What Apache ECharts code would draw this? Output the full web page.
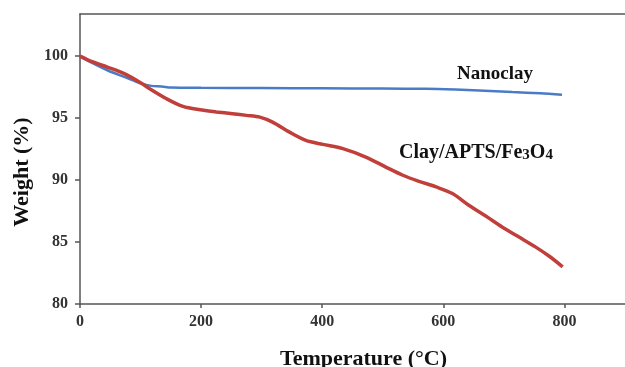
<!DOCTYPE html>
<html>
<head>
<meta charset="utf-8">
<script src="https://cdn.jsdelivr.net/npm/echarts@6/dist/echarts.min.js"></script>
<style>html,body{margin:0;padding:0;background:#fff}#c{width:625px;height:367px}</style>
</head>
<body>
<div id="c"></div>
<script>
var xTicks = [0, 200, 400, 600, 800];
var yTicks = [80, 85, 90, 95, 100];

var nanoclayT = [0, 20, 46, 74, 102, 118, 135, 150, 200, 300, 400, 500, 571, 620, 659, 714, 760, 796];
var nanoclayW = [100, 99.45, 98.84, 98.3, 97.77, 97.6, 97.55, 97.47, 97.44, 97.42, 97.4, 97.38, 97.36, 97.3, 97.23, 97.1, 97.0, 96.88];

var compT = [0, 20, 46, 74, 102, 115, 143, 170, 198, 225, 252, 275, 297, 318, 346, 373, 401, 434, 472, 505, 533, 560, 588, 615, 642, 670, 697, 725, 752, 775, 797];
var compW = [100, 99.55, 99.1, 98.57, 97.8, 97.37, 96.56, 95.94, 95.67, 95.5, 95.35, 95.22, 95.08, 94.68, 93.87, 93.2, 92.88, 92.54, 91.86, 91.05, 90.39, 89.9, 89.45, 88.91, 87.97, 87.1, 86.22, 85.4, 84.61, 83.85, 83.0];

function pairs(t, w) { return t.map(function (v, i) { return [v, w[i]]; }); }

var serif = '"Liberation Serif", "DejaVu Serif", serif';
var axisColor = '#555';

var chart = echarts.init(document.getElementById('c'), null, { renderer: 'canvas' });
chart.setOption({
  backgroundColor: '#fff',
  animation: false,
  grid: { left: 80, right: 0, top: 14, bottom: 63, containLabel: false, outerBoundsMode: 'none' },
  xAxis: [{
    type: 'value', min: 0, max: 900, interval: 200,
    name: 'Temperature (\u00B0C)', nameLocation: 'middle', nameGap: 44,
    nameTextStyle: { fontFamily: serif, fontWeight: 'bold', fontSize: 22, color: '#111', padding: [0, 0, 0, 22] },
    axisLine: { show: true, lineStyle: { color: axisColor, width: 1.5 } },
    axisTick: { show: true, length: 4, customValues: xTicks, lineStyle: { color: axisColor, width: 1.5 } },
    axisLabel: { customValues: xTicks, fontFamily: serif, fontWeight: 'bold', fontSize: 16, color: '#333', margin: 10 },
    splitLine: { show: false }
  }, {
    type: 'value', min: 0, max: 900, position: 'top',
    axisLine: { show: true, lineStyle: { color: axisColor, width: 1.5 } },
    axisTick: { show: false }, axisLabel: { show: false }, splitLine: { show: false }
  }],
  yAxis: {
    type: 'value', min: 80, max: 103.4, interval: 5,
    name: 'Weight (%)', nameLocation: 'middle', nameGap: 44, nameRotate: 90,
    nameTextStyle: { fontFamily: serif, fontWeight: 'bold', fontSize: 22, color: '#111', padding: [0, 26, 0, 0] },
    axisLine: { show: true, lineStyle: { color: axisColor, width: 1.5 } },
    axisTick: { show: true, length: 5, customValues: yTicks, lineStyle: { color: axisColor, width: 1.5 } },
    axisLabel: { customValues: yTicks, fontFamily: serif, fontWeight: 'bold', fontSize: 16, color: '#333', margin: 12 },
    splitLine: { show: false }
  },
  series: [{
    name: 'Nanoclay', type: 'line', data: pairs(nanoclayT, nanoclayW),
    showSymbol: false, smooth: 0.3, lineStyle: { color: '#4a7cc6', width: 2.5 }, z: 2
  }, {
    name: 'Clay/APTS/Fe3O4', type: 'line', data: pairs(compT, compW),
    showSymbol: false, smooth: 0.3, lineStyle: { color: '#c13f3a', width: 3.5 }, z: 3
  }],
  graphic: [{
    type: 'text', left: 457, top: 65,
    style: { text: 'Nanoclay', font: 'bold 19px ' + serif, fill: '#111' }
  }, {
    type: 'text', left: 399, top: 143,
    style: {
      text: '{a|Clay/APTS/Fe}{s|3}{a|O}{s|4}',
      rich: {
        a: { font: 'bold 20px ' + serif, fill: '#111' },
        s: { font: 'bold 15px ' + serif, fill: '#111', padding: [5, 0, 0, 0] }
      }
    }
  }]
});
</script>
</body>
</html>
